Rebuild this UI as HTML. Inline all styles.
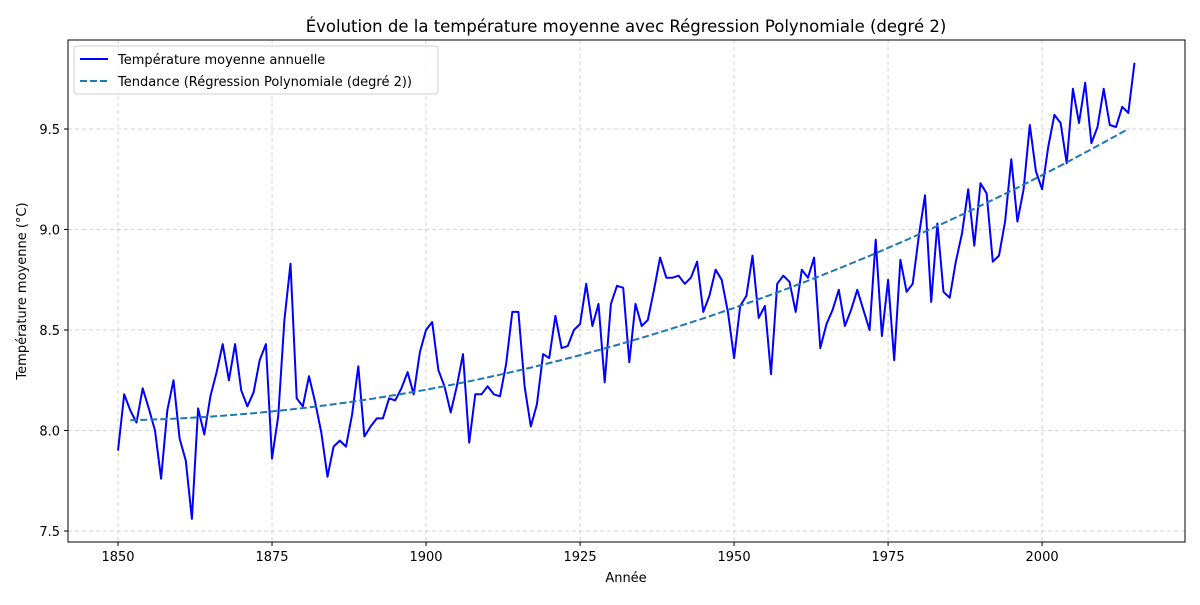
<!DOCTYPE html>
<html><head><meta charset="utf-8"><style>
body{margin:0;background:#fff;font-family:"Liberation Sans","DejaVu Sans",sans-serif}
svg text{font-family:"DejaVu Sans","Liberation Sans",sans-serif}
</style></head><body>
<svg id="chart" width="1200" height="600" xmlns="http://www.w3.org/2000/svg">
<rect width="1200" height="600" fill="#fff"/>
<text x="626" y="32" font-size="16.5" text-anchor="middle">Évolution de la température moyenne avec Régression Polynomiale (degré 2)</text>
<g id="grid"></g><g id="axes"></g><g id="series"></g>
<rect x="68" y="40" width="1117" height="502" fill="none" stroke="#000" stroke-width="1"/>
<text x="626" y="582" font-size="13" text-anchor="middle">Année</text>
<text transform="translate(26,291) rotate(-90)" font-size="13" text-anchor="middle">Température moyenne (°C)</text>
<g>
<rect x="74" y="46" width="364" height="48" rx="3" fill="#fff" fill-opacity="0.8" stroke="#ccc"/>
<line x1="80" y1="59" x2="108" y2="59" stroke="#0000ff" stroke-width="2"/>
<text x="118" y="64" font-size="13">Température moyenne annuelle</text>
<line x1="80" y1="81" x2="108" y2="81" stroke="#1f77b4" stroke-width="2" stroke-dasharray="7,3"/>
<text x="118" y="86" font-size="13">Tendance (Régression Polynomiale (degré 2))</text>
</g>
</svg>
<script>
const startYear = 1850;
const temps = [7.90,8.18,8.10,8.04,8.21,8.11,8.00,7.76,8.10,8.25,7.96,7.85,7.56,8.11,7.98,8.17,8.29,8.43,8.25,8.43,
8.20,8.12,8.19,8.35,8.43,7.86,8.07,8.55,8.83,8.16,8.12,8.27,8.14,7.99,7.77,7.92,7.95,7.92,8.08,8.32,
7.97,8.02,8.06,8.06,8.16,8.15,8.21,8.29,8.18,8.39,8.50,8.54,8.30,8.22,8.09,8.22,8.38,7.94,8.18,8.18,
8.22,8.18,8.17,8.33,8.59,8.59,8.22,8.02,8.13,8.38,8.36,8.57,8.41,8.42,8.50,8.53,8.73,8.52,8.63,8.24,
8.63,8.72,8.71,8.34,8.63,8.52,8.55,8.70,8.86,8.76,8.76,8.77,8.73,8.76,8.84,8.59,8.67,8.80,8.75,8.59,
8.36,8.62,8.67,8.87,8.56,8.62,8.28,8.73,8.77,8.74,8.59,8.80,8.76,8.86,8.41,8.53,8.60,8.70,8.52,8.60,
8.70,8.60,8.50,8.95,8.47,8.75,8.35,8.85,8.69,8.73,8.97,9.17,8.64,9.03,8.69,8.66,8.84,8.98,9.20,8.92,
9.23,9.18,8.84,8.87,9.04,9.35,9.04,9.20,9.52,9.29,9.20,9.41,9.57,9.53,9.33,9.70,9.53,9.73,9.43,9.51,
9.70,9.52,9.51,9.61,9.58,9.83];
const xTicks = [1850,1875,1900,1925,1950,1975,2000];
const yTicks = [7.5,8.0,8.5,9.0,9.5];
const trendRange = [1852,2014];
const trendCoeffs = [8.05,0.053,0.507];

const NS="http://www.w3.org/2000/svg";
const X0=68,X1=1185,Y0=40,Y1=542,xmin=1841.88,xmax=2023.2,ymin=7.4453,ymax=9.9428;
const sx=v=>X0+(v-xmin)/(xmax-xmin)*(X1-X0);
const sy=v=>Y1-(v-ymin)/(ymax-ymin)*(Y1-Y0);
function mk(t,a,p){const e=document.createElementNS(NS,t);for(const k in a)e.setAttribute(k,a[k]);p.appendChild(e);return e;}
const grid=document.getElementById('grid'),axes=document.getElementById('axes'),ser=document.getElementById('series');
xTicks.forEach(t=>{const x=sx(t);
 const g=mk('line',{x1:x,x2:x,y1:Y0,y2:Y1,stroke:'#b0b0b0','stroke-opacity':0.7,'stroke-dasharray':'4,3','stroke-width':0.8},grid);
 
 
 mk('line',{x1:x,x2:x,y1:Y1,y2:Y1+4,stroke:'#000'},axes);
 const l=mk('text',{x:x,y:Y1+19,'font-size':13,'text-anchor':'middle'},axes);l.textContent=t;
 
 
});
yTicks.forEach(t=>{const y=sy(t);
 const g=mk('line',{x1:X0,x2:X1,y1:y,y2:y,stroke:'#b0b0b0','stroke-opacity':0.7,'stroke-dasharray':'4,3','stroke-width':0.8},grid);
 
 
 mk('line',{x1:X0-4,x2:X0,y1:y,y2:y,stroke:'#000'},axes);
 const l=mk('text',{x:X0-8,y:y+5,'font-size':13,'text-anchor':'end'},axes);l.textContent=t.toFixed(1);
 
 
});
const pts=temps.map((v,i)=>sx(startYear+i).toFixed(1)+','+sy(v).toFixed(1)).join(' ');
const line=mk('polyline',{points:pts,fill:'none',stroke:'#0000ff','stroke-width':2,'stroke-linejoin':'round'},ser);


const tp=[];for(let yr=trendRange[0];yr<=trendRange[1];yr++){const u=(yr-startYear)/100;tp.push(sx(yr).toFixed(1)+','+sy(trendCoeffs[0]+trendCoeffs[1]*u+trendCoeffs[2]*u*u).toFixed(1));}
const tr=mk('polyline',{points:tp.join(' '),fill:'none',stroke:'#1f77b4','stroke-width':2,'stroke-dasharray':'7,3'},ser);


</script>
</body></html>
